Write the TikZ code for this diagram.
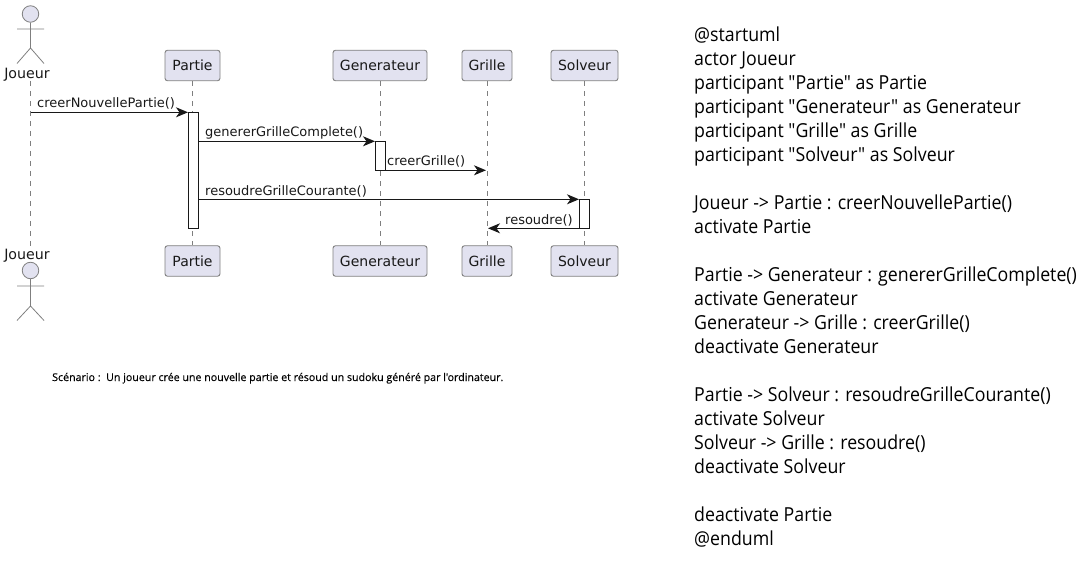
\documentclass[tikz,border=0pt]{standalone}
\usepackage{fontspec}
\setmainfont{DejaVu Sans}
\newfontfamily\codefont[FakeStretch=0.92]{Open Sans}
\newfontfamily\capfont[FakeBold=0.25]{Open Sans}
\usetikzlibrary{arrows.meta,backgrounds}
\definecolor{partfill}{HTML}{E2E2F0}
\definecolor{partdraw}{HTML}{7F7F7F}
\definecolor{inkc}{HTML}{181818}
\tikzset{
  x=1pt,y=-1pt,
  part/.style={draw=partdraw,fill=partfill,rounded corners=2.5pt,line width=0.9pt,minimum height=30.5pt,inner sep=0pt,text=inkc,font=\fontsize{14}{16}\selectfont},
  lifeline/.style={draw=partdraw,line width=0.8pt,dash pattern=on 5pt off 5pt},
  actorline/.style={draw=partdraw,line width=0.8pt},
  acthead/.style={circle,draw=partdraw,fill=partfill,line width=0.8pt,minimum size=16.5pt,inner sep=0pt},
  actname/.style={inner sep=0pt,text=inkc,font=\fontsize{14.2}{16}\selectfont},
  activation/.style={draw=inkc,fill=white,line width=1pt,minimum width=10pt,inner sep=0pt,outer sep=0pt},
  msg/.style={draw=inkc,line width=1pt,-{Stealth[length=12pt,width=10pt,inset=3.5pt]}},
  msglabel/.style={anchor=base west,inner sep=0pt,text=inkc,font=\fontsize{13}{15}\selectfont},
}
\begin{document}
\begin{tikzpicture}
\useasboundingbox (0,0) rectangle (1085,572);
% participants
\node[part,minimum width=55pt] (p1) at (192.5,65.5) {Partie};
\node[part,minimum width=94pt] (g1) at (380,65.5) {Generateur};
\node[part,minimum width=50pt] (r1) at (487,65.5) {Grille};
\node[part,minimum width=67pt] (s1) at (584.5,65.5) {Solveur};
\node[part,minimum width=55pt] (p2) at (192.5,261) {Partie};
\node[part,minimum width=94pt] (g2) at (380,261) {Generateur};
\node[part,minimum width=50pt] (r2) at (487,261) {Grille};
\node[part,minimum width=67pt] (s2) at (584.5,261) {Solveur};
% actors
\node[actname] (j1) at (27,74.5) {Joueur};
\node[actname] (j2) at (27,255.5) {Joueur};
\node[acthead] (h1) at (30.5,14) {};
\node[acthead] (h2) at (30.5,270.5) {};
\coordinate (a1) at (30.5,29);
\coordinate (w1) at (30.5,48);
\coordinate (a2) at (30.5,286);
\coordinate (w2) at (30.5,306);
\draw[actorline] (h1) -- (w1) -- +(-13.5,15.5) (w1) -- +(13.5,15.5) (a1) +(-13.5,0) -- +(13.5,0);
\draw[actorline] (h2) -- (w2) -- +(-13.5,14.5) (w2) -- +(13.5,14.5) (a2) +(-13.5,0) -- +(13.5,0);
% lifelines
\coordinate (jt) at (30.5,81);
\coordinate (jb) at (30.5,246);
\begin{scope}[on background layer]
\draw[lifeline] (jt) -- (jb);
\draw[lifeline] (p1) -- (p2);
\draw[lifeline] (g1) -- (g2);
\draw[lifeline] (r1) -- (r2);
\draw[lifeline] (s1) -- (s2);
\end{scope}
% activations
\node[activation,minimum height=116pt] (ap) at (193,170.3) {};
\node[activation,minimum height=29pt] (ag) at (380,155.8) {};
\node[activation,minimum height=29pt] (as) at (584,213.8) {};
% messages
\coordinate (jm) at (30.5,112.3);
\coordinate (rm1) at (486,170.3);
\coordinate (rm2) at (488,228.3);
\coordinate (ps) at (ap.east |- as.north);
\draw[msg] (jm) -- (ap.north west);
\draw[msg] (ap.east |- ag.north) -- (ag.north west);
\draw[msg] (ag.south east) -- (rm1);
\draw[msg] (ps) -- (as.north west);
\draw[msg] (as.south west) -- (rm2);
\node[msglabel] (l1) at (37,108) {creerNouvellePartie()};
\node[msglabel] (l2) at (205,137) {genererGrilleComplete()};
\node[msglabel] (l3) at (387,166) {creerGrille()};
\node[msglabel] (l4) at (205,195.5) {resoudreGrilleCourante()};
\node[msglabel] (l5) at (505,224.5) {resoudre()};
% caption
\node[anchor=base west,inner sep=0pt,text=black,font=\capfont\fontsize{10.65}{12}\selectfont] (cap) at (52,381) {Scénario :\ \ Un joueur crée une nouvelle partie et résoud un sudoku généré par l'ordinateur.};
% source
\node[anchor=north west,inner sep=0pt,align=left,text=black,font=\codefont\fontsize{19.3}{24}\selectfont] (src) at (694,26.5) {@startuml\\
actor Joueur\\
participant "Partie" as Partie\\
participant "Generateur" as Generateur\\
participant "Grille" as Grille\\
participant "Solveur" as Solveur\\[24pt]
Joueur -> Partie : creerNouvellePartie()\\
activate Partie\\[24pt]
Partie -> Generateur : genererGrilleComplete()\\
activate Generateur\\
Generateur -> Grille : creerGrille()\\
deactivate Generateur\\[24pt]
Partie -> Solveur : resoudreGrilleCourante()\\
activate Solveur\\
Solveur -> Grille : resoudre()\\
deactivate Solveur\\[24pt]
deactivate Partie\\
@enduml};
\end{tikzpicture}
\end{document}
